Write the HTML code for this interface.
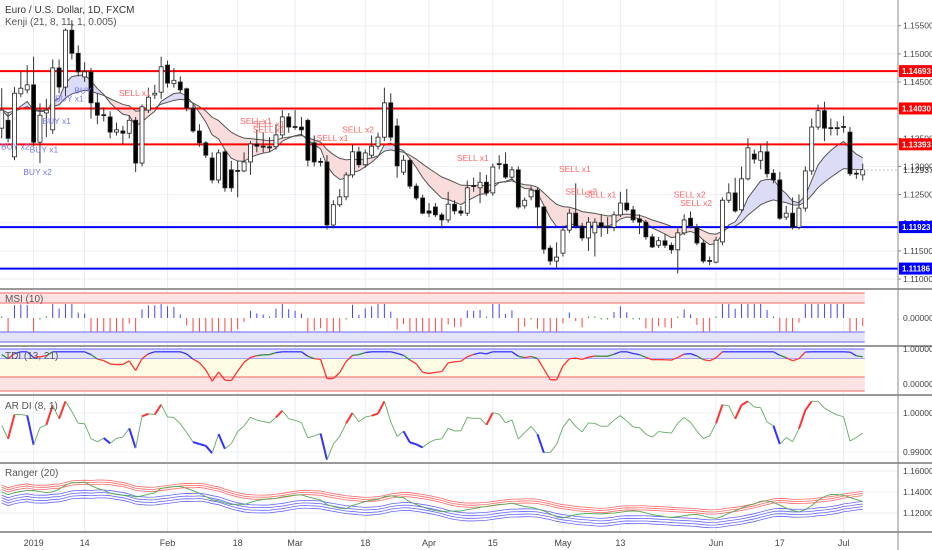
<!DOCTYPE html>
<html><head><meta charset="utf-8"><style>
html,body{margin:0;padding:0;background:#fff;}
svg{display:block;font-family:"Liberation Sans",sans-serif;}
</style></head><body>
<svg id="chart" width="932" height="550" viewBox="0 0 932 550" xmlns="http://www.w3.org/2000/svg">
<rect x="0" y="0" width="932" height="550" fill="#fff"/>
<g id="grid"></g>
<g id="main"></g>
<g id="subs"></g>
<g id="axes"></g>
<text x="5" y="13" font-size="10" fill="#333">Euro / U.S. Dollar, 1D, FXCM</text>
<text x="5" y="25" font-size="10" fill="#555">Kenji (21, 8, 11, 1, 0.005)</text>
<text x="5" y="302" font-size="10" fill="#555">MSI (10)</text>
<text x="5" y="359" font-size="10" fill="#555">TDI (13, 21)</text>
<text x="5" y="409" font-size="10" fill="#555">AR DI (8, 1)</text>
<text x="5" y="476" font-size="10" fill="#555">Ranger (20)</text>
</svg>
<script>
const opens=[1.1368,1.1382,1.1317,1.1429,1.1436,1.1445,1.1343,1.1395,1.1365,1.1475,1.1441,1.1542,1.1501,1.1459,1.1468,1.1413,1.1392,1.1388,1.1361,1.1363,1.1359,1.1382,1.1306,1.1400,1.1427,1.1432,1.1480,1.1447,1.1450,1.1438,1.1404,1.1363,1.1342,1.1315,1.1276,1.1326,1.1294,1.1293,1.1292,1.1308,1.1340,1.1336,1.1335,1.1335,1.1356,1.1388,1.1371,1.1370,1.1382,1.1342,1.1309,1.1308,1.1196,1.1232,1.1246,1.1285,1.1326,1.1303,1.1320,1.1336,1.1352,1.1413,1.1372,1.1290,1.1311,1.1265,1.1244,1.1221,1.1228,1.1214,1.1205,1.1233,1.1221,1.1217,1.1266,1.1262,1.1272,1.1253,1.1305,1.1304,1.1281,1.1294,1.1230,1.1246,1.1258,1.1228,1.1155,1.1132,1.1146,1.1187,1.1217,1.1194,1.1173,1.1182,1.1200,1.1193,1.1192,1.1214,1.1235,1.1223,1.1207,1.1201,1.1175,1.1160,1.1168,1.1160,1.1152,1.1182,1.1208,1.1192,1.1164,1.1133,1.1130,1.1166,1.1240,1.1253,1.1223,1.1278,1.1322,1.1311,1.1326,1.1288,1.1276,1.1210,1.1217,1.1192,1.1226,1.1292,1.1370,1.1399,1.1369,1.1369,1.1371,1.1361,1.1288,1.1285];
const closes=[1.1400,1.1350,1.1430,1.1439,1.1445,1.1343,1.1391,1.1400,1.1475,1.1441,1.1542,1.1501,1.1468,1.1468,1.1413,1.1391,1.1391,1.1361,1.1365,1.1359,1.1382,1.1306,1.1406,1.1423,1.1430,1.1477,1.1448,1.1453,1.1436,1.1404,1.1363,1.1342,1.1320,1.1276,1.1324,1.1262,1.1262,1.1292,1.1308,1.1340,1.1336,1.1335,1.1333,1.1356,1.1388,1.1370,1.1370,1.1365,1.1311,1.1308,1.1308,1.1196,1.1232,1.1246,1.1285,1.1326,1.1303,1.1324,1.1336,1.1352,1.1413,1.1352,1.1301,1.1311,1.1265,1.1244,1.1217,1.1217,1.1214,1.1205,1.1233,1.1221,1.1217,1.1262,1.1265,1.1272,1.1253,1.1299,1.1304,1.1281,1.1294,1.1228,1.1240,1.1258,1.1228,1.1153,1.1132,1.1139,1.1187,1.1217,1.1194,1.1173,1.1201,1.1201,1.1192,1.1192,1.1214,1.1235,1.1223,1.1205,1.1201,1.1175,1.1157,1.1168,1.1160,1.1152,1.1182,1.1205,1.1194,1.1164,1.1132,1.1132,1.1169,1.1240,1.1253,1.1221,1.1278,1.1333,1.1313,1.1326,1.1287,1.1276,1.1208,1.1217,1.1192,1.1226,1.1292,1.1370,1.1399,1.1368,1.1368,1.1368,1.1370,1.1287,1.1287,1.1294];
const highs=[1.1439,1.1395,1.1441,1.1468,1.1480,1.1495,1.1412,1.1420,1.1490,1.1490,1.1545,1.1560,1.1515,1.1485,1.1475,1.1430,1.1405,1.1398,1.1378,1.1372,1.1390,1.1388,1.1410,1.1440,1.1445,1.1495,1.1488,1.1475,1.1460,1.1440,1.1410,1.1375,1.1345,1.1325,1.1330,1.1330,1.1310,1.1310,1.1325,1.1345,1.1365,1.1360,1.1352,1.1375,1.1400,1.1395,1.1400,1.1388,1.1385,1.1355,1.1315,1.1320,1.1240,1.1260,1.1290,1.1340,1.1335,1.1330,1.1355,1.1360,1.1440,1.1430,1.1385,1.1320,1.1315,1.1270,1.1250,1.1235,1.1235,1.1218,1.1255,1.1240,1.1230,1.1275,1.1280,1.1290,1.1285,1.1305,1.1320,1.1325,1.1300,1.1300,1.1245,1.1265,1.1262,1.1230,1.1160,1.1165,1.1195,1.1225,1.1270,1.1200,1.1210,1.1208,1.1215,1.1210,1.1220,1.1255,1.1260,1.1230,1.1215,1.1205,1.1180,1.1175,1.1180,1.1165,1.1190,1.1215,1.1220,1.1198,1.1170,1.1140,1.1175,1.1245,1.1270,1.1280,1.1300,1.1350,1.1330,1.1340,1.1345,1.1295,1.1290,1.1230,1.1245,1.1250,1.1300,1.1385,1.1410,1.1415,1.1385,1.1380,1.1390,1.1370,1.1295,1.1305];
const lows=[1.1350,1.1343,1.1311,1.1423,1.1430,1.1336,1.1306,1.1352,1.1358,1.1430,1.1425,1.1490,1.1460,1.1450,1.1385,1.1375,1.1380,1.1350,1.1355,1.1340,1.1350,1.1290,1.1300,1.1395,1.1420,1.1420,1.1440,1.1440,1.1430,1.1398,1.1360,1.1335,1.1315,1.1270,1.1270,1.1255,1.1255,1.1245,1.1290,1.1285,1.1325,1.1325,1.1325,1.1330,1.1350,1.1360,1.1365,1.1355,1.1300,1.1300,1.1300,1.1188,1.1190,1.1228,1.1240,1.1280,1.1298,1.1298,1.1315,1.1330,1.1345,1.1345,1.1280,1.1285,1.1260,1.1240,1.1215,1.1210,1.1210,1.1190,1.1200,1.1215,1.1212,1.1212,1.1255,1.1235,1.1248,1.1248,1.1295,1.1278,1.1276,1.1225,1.1225,1.1240,1.1190,1.1145,1.1125,1.1118,1.1140,1.1182,1.1190,1.1168,1.1150,1.1140,1.1175,1.1180,1.1185,1.1210,1.1220,1.1200,1.1180,1.1170,1.1155,1.1155,1.1155,1.1145,1.1110,1.1178,1.1190,1.1160,1.1128,1.1125,1.1128,1.1160,1.1235,1.1218,1.1220,1.1275,1.1305,1.1295,1.1280,1.1270,1.1205,1.1205,1.1188,1.1188,1.1220,1.1285,1.1365,1.1345,1.1355,1.1355,1.1360,1.1283,1.1278,1.1275];
const priceTicks=[1.155,1.150,1.145,1.140,1.135,1.130,1.125,1.120,1.115,1.110];
const redLevels=[1.14693,1.14030,1.13393];
const blueLevels=[1.11923,1.11186];
const lastPrice=1.12937;
const timeLabels=["2019","14","Feb","18","Mar","18","Apr","15","May","13","Jun","17","Jul"];
const timeIdx=[5,13,26,37,46,57,67,77,88,97,112,122,132];
const signalLabels=["BUY x2","BUY x1","BUY x2","BUY x1","BUY x1","BUY","SELL x1","SELL x1","SELL x1","SELL x1","SELL x1","SELL x2","SELL x1","SELL x1","SELL x2","SELL x1","SELL x2","SELL x2"];
const signalIdx=[0,5,4,7,9,12,19,38,40,40,50,54,72,88,89,92,106,107];
const signalPrices=[1.1330,1.1325,1.1285,1.1375,1.1415,1.1430,1.1425,1.1375,1.1370,1.1360,1.1345,1.1360,1.1310,1.1290,1.1250,1.1245,1.1245,1.1230];

const NS="http://www.w3.org/2000/svg";
const N=closes.length;
const PR=898;
function xOf(i){return 1.7+i*6.378;}
function yP(p){return 25.7+(1.155-p)/0.005*28.15;}
function mk(tag,attrs,parent){const e=document.createElementNS(NS,tag);for(const k in attrs)e.setAttribute(k,attrs[k]);parent.appendChild(e);return e;}
const grid=document.getElementById('grid'),main=document.getElementById('main'),subs=document.getElementById('subs'),axes=document.getElementById('axes');
const xEnd=xOf(N-1)+2;

priceTicks.forEach(p=>{const l=mk('line',{x1:0,x2:PR,y1:yP(p),y2:yP(p),stroke:'#eef1f6','stroke-width':1},grid);

});
timeIdx.forEach(i=>{const l=mk('line',{x1:xOf(i),x2:xOf(i),y1:0,y2:532,stroke:'#e6edf3','stroke-width':1},grid);

});

function ema(arr,n){const k=2/(n+1);const o=[];let v=arr[0];arr.forEach((a,i)=>{v=i?a*k+v*(1-k):a;o.push(v);});return o;}
function sma(arr,n){return arr.map((a,i)=>{let s=0,c=0;for(let j=Math.max(0,i-n+1);j<=i;j++){s+=arr[j];c++;}return s/c;});}
const fast=ema(closes,8),slow=ema(closes,21);

for(let i=0;i<N-1;i++){
  const d=fast[i]-slow[i];
  const col=Math.abs(d)<0.0004?'#dcf2d8':(d>0?'#dcdcf7':'#f9dcdc');
  const pg=mk('polygon',{points:`${xOf(i)},${yP(fast[i])} ${xOf(i+1)},${yP(fast[i+1])} ${xOf(i+1)},${yP(slow[i+1])} ${xOf(i)},${yP(slow[i])}`,fill:col,stroke:col,'stroke-width':0.5},main);
  
  
}
[fast,slow].forEach((s,k)=>{const pl=mk('polyline',{points:s.map((v,i)=>xOf(i)+','+yP(v)).join(' '),fill:'none',stroke:'#555','stroke-width':1},main);

});

redLevels.forEach(p=>{const l=mk('line',{x1:0,x2:PR,y1:yP(p),y2:yP(p),stroke:'#f00','stroke-width':2},main);

});
blueLevels.forEach(p=>{const l=mk('line',{x1:0,x2:PR,y1:yP(p),y2:yP(p),stroke:'#00f','stroke-width':2},main);

});

for(let i=0;i<N;i++){
  const o=opens[i],c=closes[i],x=xOf(i);
  const g=mk('g',{},main);
  
  
  mk('line',{x1:x,x2:x,y1:yP(highs[i]),y2:yP(lows[i]),stroke:'#333','stroke-width':1},g);
  const top=yP(Math.max(o,c)),bot=yP(Math.min(o,c));
  mk('rect',{x:x-2,y:top,width:4,height:Math.max(1,bot-top),fill:c>=o?'#fff':'#000',stroke:'#222','stroke-width':0.8},g);
}

signalLabels.forEach((t,k)=>{const x=Math.max(1,xOf(signalIdx[k])-4),y=yP(signalPrices[k]);const isB=t.startsWith('BUY');
const tx=mk('text',{x:x,y:y,'font-size':8.5,fill:isB?'#7777ff':'#ff6666'},main);tx.textContent=t;

});

[289,346,395,463,532].forEach(y=>{const l=mk('line',{x1:0,x2:932,y1:y,y2:y,stroke:'#999','stroke-width':2},axes);

});
const va=mk('line',{x1:PR,x2:PR,y1:0,y2:550,stroke:'#888','stroke-width':1},axes);



priceTicks.forEach(p=>{const y=yP(p);mk('line',{x1:PR,x2:PR+3,y1:y,y2:y,stroke:'#888'},axes);
const t=mk('text',{x:PR+5,y:y+3,'font-size':8.5,fill:'#444'},axes);t.textContent=p.toFixed(5);

});
function tag(p,col){const y=yP(p);const r=mk('rect',{x:PR+1,y:y-6,width:33,height:12,fill:col},axes);


const t=mk('text',{x:PR+4,y:y+3,'font-size':8,fill:'#fff','font-weight':'bold'},axes);t.textContent=p.toFixed(5);

}
redLevels.forEach(p=>tag(p,'#f00'));blueLevels.forEach(p=>tag(p,'#00f'));
{const y=yP(lastPrice);const t=mk('text',{x:PR+5,y:y+3,'font-size':8.5,fill:'#222'},axes);t.textContent=lastPrice.toFixed(5);


mk('line',{x1:xOf(N-1)-8,x2:PR,y1:y,y2:y,stroke:'#bbb','stroke-dasharray':'2,2'},main);}

timeLabels.forEach((s,k)=>{const t=mk('text',{x:xOf(timeIdx[k]),y:546,'font-size':9,fill:'#444','text-anchor':'middle'},axes);t.textContent=s;

});

// MSI
const msiBase=318;
function band(y1,y2,fill,stroke,name){const r=mk('rect',{x:0,y:y1,width:xEnd,height:y2-y1,fill:fill},subs);


mk('line',{x1:0,x2:xEnd,y1:y1,y2:y1,stroke:stroke},subs);mk('line',{x1:0,x2:xEnd,y1:y2,y2:y2,stroke:stroke},subs);}
band(293,303,'#fde3e3','#f66','msi-upper-band');
band(332,342,'#e3e3fb','#66f','msi-lower-band');
const e10=ema(closes,10);
const msi=closes.map((c,i)=>(c-e10[i]));
msi.forEach((v,i)=>{let h=Math.max(-14,Math.min(14,v/0.001*4));const small=Math.abs(h)<3;if(small)h=h>=0?1.5:-1.5;
const col=small?'#3a8a3a':(h>0?'#44f':'#f44');
const l=mk('line',{x1:xOf(i),x2:xOf(i),y1:msiBase,y2:msiBase-h,stroke:col,'stroke-width':1},subs);

});
const mz=mk('text',{x:PR+5,y:321,'font-size':8.5,fill:'#444'},axes);mz.textContent='0.00000';



// TDI
function yT(v){return 349+(1-v)*35;}
band(349,359,'#e3e3fb','#66f','tdi-upper-band');
const ym=mk('rect',{x:0,y:359,width:xEnd,height:18,fill:'#fdfbe3'},subs);


band(377,391,'#fde3e3','#f66','tdi-lower-band');
const e3=ema(closes,3),e13=ema(closes,13);
const tdi=e3.map((v,i)=>{const d=(v-e13[i])/0.003;return Math.max(-0.05,Math.min(0.96,0.84+Math.min(d,0.4)*0.2+Math.min(0,d+1.2)*0.35));});
for(let i=0;i<N-1;i++){const col=tdi[i]>0.84?'#33f':(tdi[i]>0.78?'#3a8a3a':'#f33');
const l=mk('line',{x1:xOf(i),y1:yT(tdi[i]),x2:xOf(i+1),y2:yT(tdi[i+1]),stroke:col,'stroke-width':1.3},subs);

}
[[1,'1.00000'],[0,'0.00000']].forEach(a=>{const t=mk('text',{x:PR+5,y:yT(a[0])+3,'font-size':8.5,fill:'#444'},axes);t.textContent=a[1];

});

// AR DI
function yA(v){return 413+(1-v)/0.01*39;}
const e8=ema(closes,8);
const ardi=closes.map((c,i)=>Math.max(0.988,Math.min(1.003,0.9968+(c-e8[i])/c*1.0)));
for(let i=0;i<N-1;i++){const up=ardi[i+1]>ardi[i];let col='#6a6',w=0.9;
if(up&&ardi[i+1]>0.9995){col='#f33';w=2;}else if(!up&&ardi[i+1]<0.9925){col='#33f';w=2;}
const l=mk('line',{x1:xOf(i),y1:yA(ardi[i]),x2:xOf(i+1),y2:yA(ardi[i+1]),stroke:col,'stroke-width':w},subs);

}
[[1,'1.00000'],[0.99,'0.99000']].forEach(a=>{const y=yA(a[0]);mk('line',{x1:0,x2:PR,y1:y,y2:y,stroke:'#eef1f6'},grid);
const t=mk('text',{x:PR+5,y:y+3,'font-size':8.5,fill:'#444'},axes);t.textContent=a[1];

});

// Ranger
function yR(v){return 471+(1.16-v)/0.02*21;}
const mid=sma(closes,10);
const rOff=[0.0065,0.0045,0.0025],bOff=[-0.003,-0.0055,-0.008,-0.0105];
rOff.forEach(o=>{const pl=mk('polyline',{points:mid.map((v,i)=>xOf(i)+','+yR(v+o)).join(' '),fill:'none',stroke:'#f66','stroke-width':0.8},subs);

});
bOff.forEach(o=>{const pl=mk('polyline',{points:mid.map((v,i)=>xOf(i)+','+yR(v+o)).join(' '),fill:'none',stroke:'#66f','stroke-width':0.8},subs);

});
{const m5=sma(closes,4);const pl=mk('polyline',{points:m5.map((v,i)=>xOf(i)+','+yR(v)).join(' '),fill:'none',stroke:'#5a5','stroke-width':0.9},subs);

}
[[1.16,'1.16000'],[1.14,'1.14000'],[1.12,'1.12000']].forEach(a=>{const y=yR(a[0]);mk('line',{x1:0,x2:PR,y1:y,y2:y,stroke:'#eef1f6'},grid);
const t=mk('text',{x:PR+5,y:y+3,'font-size':8.5,fill:'#444'},axes);t.textContent=a[1];

});
</script>
</body></html>
